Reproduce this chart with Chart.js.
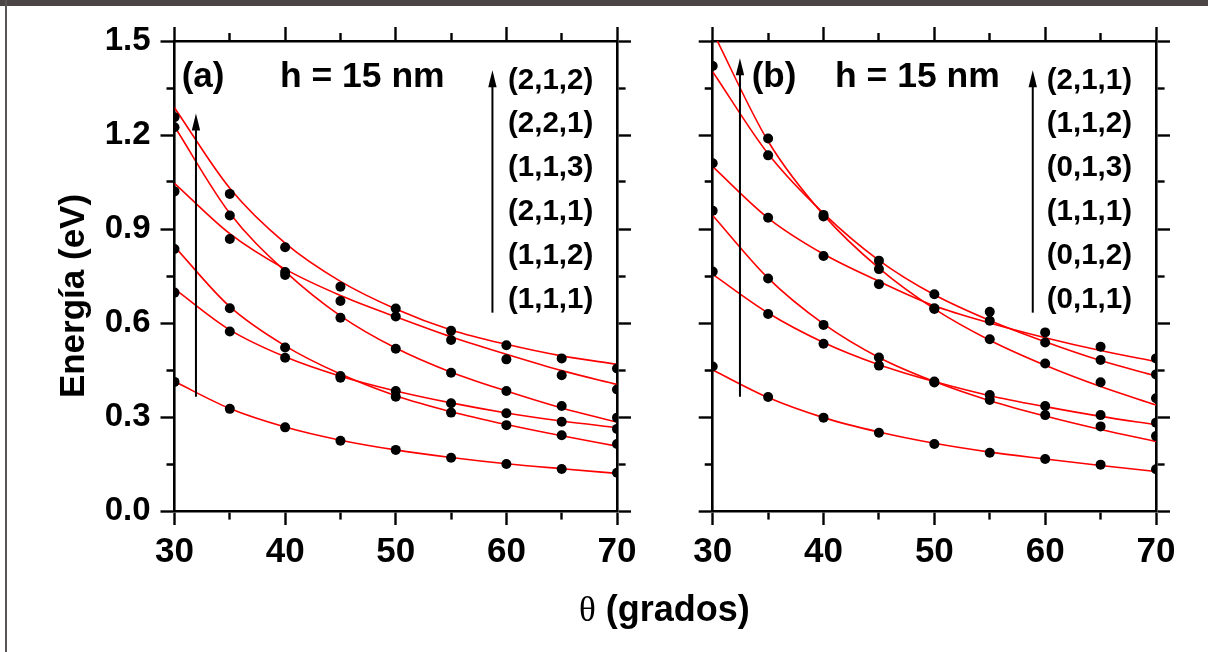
<!DOCTYPE html>
<html>
<head>
<meta charset="utf-8">
<script src="https://cdn.jsdelivr.net/npm/chart.js@4.4.1/dist/chart.umd.min.js"></script>
<style>
html,body{margin:0;padding:0;background:#fff;}
#wrap{position:relative;width:1208px;height:652px;overflow:hidden;background:#fff;font-family:"Liberation Sans",Arial,sans-serif;color:#000;}
canvas{position:absolute;top:0;}
#cA{left:0;}
#cB{left:665px;}
#topband{position:absolute;left:0;top:0;width:1208px;height:6px;background:#4b4545;z-index:5;}
#leftline{position:absolute;left:5px;top:0;width:2px;height:652px;background:#5a5555;z-index:5;}
#ytitle{position:absolute;left:-58px;top:276px;width:260px;height:40px;line-height:40px;text-align:center;transform:rotate(-90deg);font-weight:bold;font-size:35px;white-space:nowrap;z-index:4;}
#xtitle{position:absolute;left:579px;top:589px;height:40px;line-height:40px;font-weight:bold;font-size:36px;white-space:nowrap;z-index:4;}
#xtitle .th{font-family:"Liberation Serif","Times New Roman",serif;font-weight:normal;font-size:35px;}
</style>
</head>
<body>
<div id="wrap">
  <canvas id="cA" width="665" height="652"></canvas>
  <canvas id="cB" width="543" height="652"></canvas>
  <div id="topband"></div>
  <div id="leftline"></div>
  <div id="ytitle">Energía (eV)</div>
  <div id="xtitle"><span class="th">θ</span> (grados)</div>
</div>
<script>
// ---------------- DATA ----------------
const theta = [30, 35, 40, 45, 50, 55, 60, 65, 70];

const xMajor = [30, 40, 50, 60, 70];
const xMinor = [35, 45, 55, 65];
const xTickLabels = ['30', '40', '50', '60', '70'];
const yMajor = [0, 0.3, 0.6, 0.9, 1.2, 1.5];
const yMinor = [0.15, 0.45, 0.75, 1.05, 1.35];
const yTickLabels = ['0.0', '0.3', '0.6', '0.9', '1.2', '1.5'];

// Panel (a): computed points (black dots)
const dotsA1 = [0.412, 0.326, 0.267, 0.224, 0.195, 0.170, 0.150, 0.134, 0.122];
const dotsA2 = [0.836, 0.647, 0.522, 0.431, 0.365, 0.314, 0.274, 0.242, 0.214];
const dotsA3 = [0.697, 0.573, 0.489, 0.425, 0.383, 0.344, 0.312, 0.285, 0.262];
const dotsA4 = [1.225, 0.943, 0.753, 0.617, 0.518, 0.441, 0.383, 0.335, 0.298];
const dotsA5 = [1.020, 0.868, 0.763, 0.670, 0.621, 0.546, 0.484, 0.433, 0.388];
const dotsA6 = [1.257, 1.012, 0.842, 0.716, 0.646, 0.575, 0.529, 0.487, 0.455];
// Panel (a): fitted curves (red)
const fitA1 = [0.413, 0.327, 0.268, 0.226, 0.195, 0.171, 0.151, 0.135, 0.120];
const fitA2 = [0.844, 0.652, 0.527, 0.437, 0.368, 0.317, 0.276, 0.240, 0.207];
const fitA3 = [0.709, 0.578, 0.492, 0.430, 0.383, 0.345, 0.313, 0.287, 0.266];
const fitA4 = [1.227, 0.950, 0.765, 0.623, 0.520, 0.443, 0.383, 0.329, 0.284];
const fitA5 = [1.046, 0.885, 0.772, 0.688, 0.620, 0.556, 0.500, 0.448, 0.404];
const fitA6 = [1.287, 1.030, 0.855, 0.733, 0.645, 0.578, 0.532, 0.495, 0.468];

// Panel (b): computed points (black dots)
const dotsB1 = [0.461, 0.364, 0.298, 0.250, 0.214, 0.186, 0.166, 0.148, 0.133];
const dotsB2 = [0.958, 0.742, 0.594, 0.490, 0.413, 0.354, 0.306, 0.270, 0.239];
const dotsB3 = [0.764, 0.629, 0.534, 0.464, 0.410, 0.370, 0.335, 0.306, 0.282];
const dotsB4 = [null, 1.189, 0.945, 0.772, 0.647, 0.548, 0.471, 0.411, 0.360];
const dotsB5 = [1.420, 1.135, 0.940, 0.799, 0.692, 0.607, 0.538, 0.482, 0.436];
const dotsB6 = [1.110, 0.936, 0.814, 0.724, 0.645, 0.636, 0.570, 0.524, 0.487];
// Panel (b): fitted curves (red)
const fitB1 = [0.450, 0.362, 0.298, 0.252, 0.216, 0.188, 0.166, 0.145, 0.126];
const fitB2 = [0.943, 0.743, 0.597, 0.490, 0.413, 0.352, 0.303, 0.260, 0.222];
const fitB3 = [0.755, 0.632, 0.538, 0.467, 0.413, 0.368, 0.333, 0.302, 0.275];
const fitB4 = [1.530, 1.180, 0.945, 0.775, 0.645, 0.545, 0.465, 0.397, 0.338];
const fitB5 = [1.402, 1.140, 0.950, 0.800, 0.690, 0.608, 0.540, 0.480, 0.431];
const fitB6 = [1.099, 0.935, 0.820, 0.733, 0.655, 0.600, 0.553, 0.512, 0.477];

const stateLabelsA = ['(2,1,2)', '(2,2,1)', '(1,1,3)', '(2,1,1)', '(1,1,2)', '(1,1,1)'];
const stateLabelsB = ['(2,1,1)', '(1,1,2)', '(0,1,3)', '(1,1,1)', '(0,1,2)', '(0,1,1)'];
const panelTags = ['(a)', '(b)'];
const thicknessText = 'h = 15 nm';

// ---------------- HELPERS ----------------
const FONT = '"Liberation Sans", Arial, Helvetica, sans-serif';
Chart.defaults.font.family = FONT;
Chart.defaults.color = '#000';

function pts(arr) { return theta.map((t, i) => ({ x: t, y: arr[i] })); }

function dotSet(arr) {
  return { data: pts(arr), showLine: false, pointRadius: 5, pointHoverRadius: 5,
    pointBackgroundColor: '#000', pointBorderWidth: 0, borderWidth: 0, clip: 0, order: 0 };
}
function fitSet(arr) {
  return { data: pts(arr), showLine: true, pointRadius: 0, pointHoverRadius: 0,
    borderColor: '#f00', borderWidth: 1.6, cubicInterpolationMode: 'monotone', fill: false,
    clip: 0, order: 1 };
}

function makeTicks(major, minor) {
  return (scale) => {
    const t = major.map(v => ({ value: v, isMajor: true })).concat(minor.map(v => ({ value: v, isMajor: false })));
    t.sort((a, b) => a.value - b.value);
    scale.ticks = t;
  };
}
// outerFirst: tick line is drawn starting from outside end (top/left axes)
function dashFn(outerFirst) {
  return (ctx) => {
    if (ctx.tick && ctx.tick.isMajor) return [];
    return outerFirst ? [0, 6, 8, 100] : [7, 100];
  };
}

function axis(opts) {
  const { position, major, minor, labels, showLabels, size, font, pad, outerFirst, isX } = opts;
  return {
    type: 'linear', position, min: isX ? 30 : 0, max: isX ? 70 : 1.5, z: 1,
    afterBuildTicks: makeTicks(major, minor),
    afterFit: (s) => { if (isX) s.height = size; else s.width = size; },
    grid: { display: true, drawOnChartArea: false, drawTicks: true, tickLength: 14,
      tickColor: '#000', tickWidth: 2.4, tickBorderDash: dashFn(outerFirst) },
    border: { display: true, color: '#000', width: 2.6 },
    ticks: {
      display: showLabels, autoSkip: false, maxRotation: 0, minRotation: 0, padding: pad,
      color: '#000', font: { size: font, weight: 'bold', family: FONT },
      callback: (v, i, ticks) => {
        const idx = major.indexOf(v);
        return idx >= 0 ? labels[idx] : '';
      }
    }
  };
}

const annot = {
  id: 'annot',
  afterDatasetsDraw(chart, args, o) {
    const { ctx } = chart;
    const xs = chart.scales.x, ys = chart.scales.y;
    ctx.save();
    ctx.fillStyle = '#000';
    ctx.strokeStyle = '#000';
    ctx.textAlign = 'left';
    ctx.textBaseline = 'alphabetic';
    (o.texts || []).forEach(t => {
      ctx.font = 'bold ' + t.size + 'px ' + FONT;
      ctx.fillText(t.text, xs.getPixelForValue(t.x), ys.getPixelForValue(t.y));
    });
    (o.arrows || []).forEach(a => {
      const px = xs.getPixelForValue(a.x);
      const yb = ys.getPixelForValue(a.y0);
      const yt = ys.getPixelForValue(a.y1);
      ctx.lineWidth = 2;
      ctx.beginPath(); ctx.moveTo(px, yb); ctx.lineTo(px, yt + 12); ctx.stroke();
      ctx.beginPath(); ctx.moveTo(px, yt); ctx.lineTo(px - 4.2, yt + 17); ctx.lineTo(px + 4.2, yt + 17);
      ctx.closePath(); ctx.fill();
    });
    ctx.restore();
  }
};

function legendTexts(labels, xpos) {
  const base = 1.348, step = 0.14;
  return labels.map((s, i) => ({ text: s, x: xpos, y: base - i * step, size: 29.5 }));
}

function buildChart(id, dots, fits, cfg) {
  const datasets = dots.map(dotSet).concat(fits.map(fitSet));
  return new Chart(document.getElementById(id), {
    type: 'scatter',
    data: { datasets },
    options: {
      responsive: false, animation: false, devicePixelRatio: 1,
      layout: { padding: cfg.padding },
      plugins: { legend: { display: false }, tooltip: { enabled: false },
        annot: { texts: cfg.texts, arrows: cfg.arrows } },
      scales: {
        x: axis({ position: 'bottom', major: xMajor, minor: xMinor, labels: xTickLabels, showLabels: true,
          size: 60, font: 35, pad: 6, outerFirst: false, isX: true }),
        x2: axis({ position: 'top', major: xMajor, minor: xMinor, labels: xTickLabels, showLabels: false,
          size: 20, font: 34, pad: 6, outerFirst: true, isX: true }),
        y: axis({ position: 'left', major: yMajor, minor: yMinor, labels: yTickLabels, showLabels: cfg.yLabels,
          size: cfg.yWidth, font: 33, pad: 10, outerFirst: true, isX: false }),
        y2: axis({ position: 'right', major: yMajor, minor: yMinor, labels: yTickLabels, showLabels: false,
          size: 20, font: 31, pad: 6, outerFirst: false, isX: false })
      }
    },
    plugins: [annot]
  });
}

buildChart('cA',
  [dotsA1, dotsA2, dotsA3, dotsA4, dotsA5, dotsA6],
  [fitA1, fitA2, fitA3, fitA4, fitA5, fitA6],
  {
    padding: { left: 0, right: 28, top: 21, bottom: 81 },
    yWidth: 174.5, yLabels: true,
    texts: [
      { text: panelTags[0], x: 30.65, y: 1.353, size: 35 },
      { text: thicknessText, x: 39.53, y: 1.353, size: 35.5 }
    ].concat(legendTexts(stateLabelsA, 60.15)),
    arrows: [ { x: 31.94, y0: 0.365, y1: 1.269 }, { x: 58.74, y0: 0.633, y1: 1.407 } ]
  });

buildChart('cB',
  [dotsB1, dotsB2, dotsB3, dotsB4, dotsB5, dotsB6],
  [fitB1, fitB2, fitB3, fitB4, fitB5, fitB6],
  {
    padding: { left: 0, right: 32, top: 21, bottom: 81 },
    yWidth: 47.7, yLabels: false,
    texts: [
      { text: panelTags[1], x: 33.52, y: 1.353, size: 35 },
      { text: thicknessText, x: 41.04, y: 1.353, size: 35.5 }
    ].concat(legendTexts(stateLabelsB, 60.14)),
    arrows: [ { x: 32.46, y0: 0.365, y1: 1.445 }, { x: 58.88, y0: 0.633, y1: 1.407 } ]
  });
</script>
</body>
</html>
